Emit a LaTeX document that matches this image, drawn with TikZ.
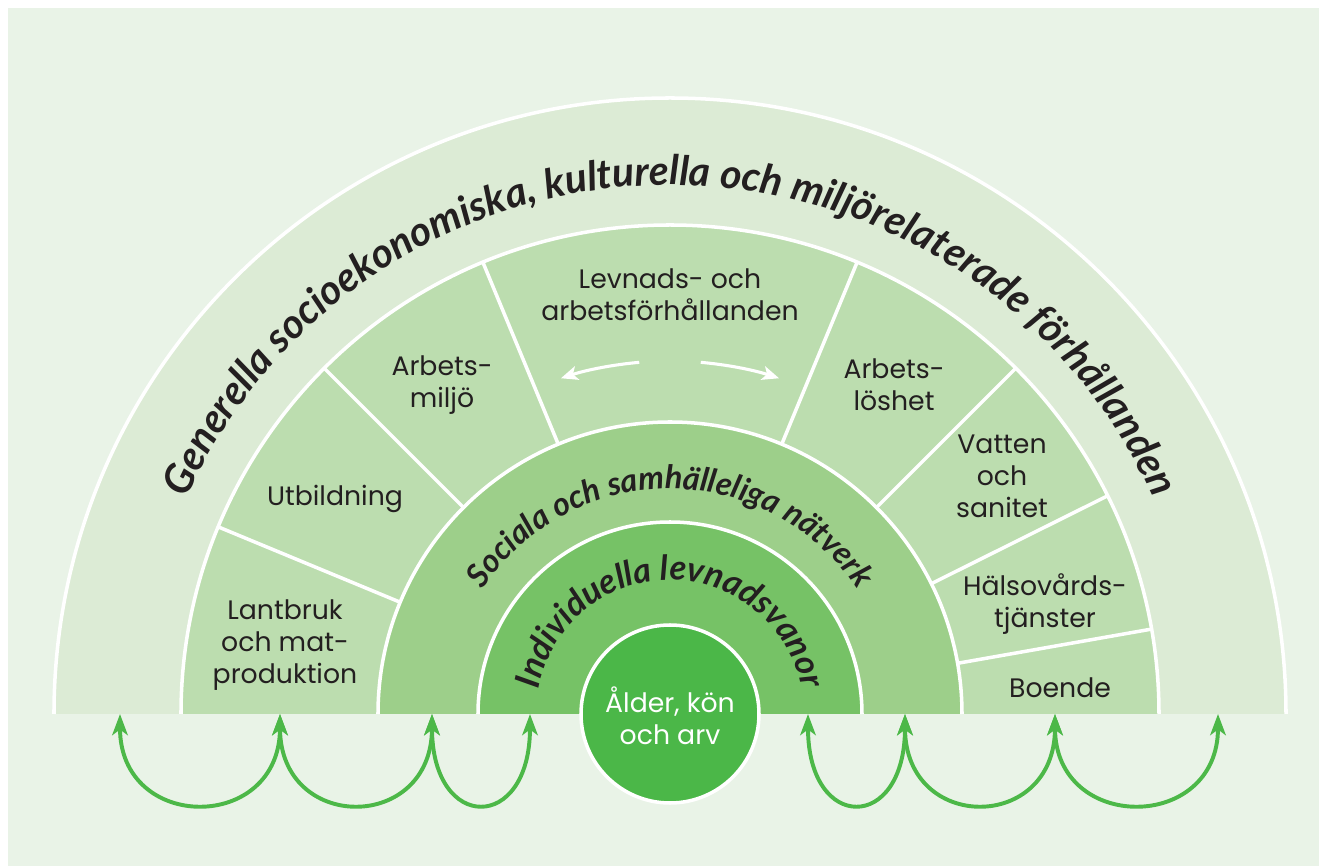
\documentclass[tikz,border=0pt]{standalone}
\usepackage{fontspec}
\setmainfont{Lato}
\newfontfamily\labelfont{Poppins}
\usetikzlibrary{arrows.meta,decorations.text,calc}
\definecolor{panelgreen}{RGB}{233,243,231}
\definecolor{outergreen}{RGB}{220,235,213}
\definecolor{segmentgreen}{RGB}{188,221,175}
\definecolor{socialgreen}{RGB}{157,207,138}
\definecolor{indivgreen}{RGB}{118,194,102}
\definecolor{coregreen}{RGB}{75,183,72}
\definecolor{arrowgreen}{RGB}{76,184,72}
\definecolor{textblack}{RGB}{35,31,32}
\newcommand\bandfont{\fontsize{29}{35}\selectfont\bfseries\itshape}
\newcommand\ringfont{\fontsize{23}{28}\selectfont\bfseries\itshape}
\newcommand\corefont{\fontsize{24.5}{28}\selectfont\bfseries\itshape}

\begin{document}
\begin{tikzpicture}[x=0.025cm, y=0.025cm,
    segtext/.style={font=\labelfont\fontsize{19}{22.7}\selectfont, text=textblack, align=center},
    ringline/.style={white, line width=2.5pt},
    feedback/.style={arrowgreen, line width=2.8pt, {Stealth[length=15pt,width=11pt,inset=4pt]}-{Stealth[length=15pt,width=11pt,inset=4pt]}},
    turnarrow/.style={white, line width=2.2pt, -{Stealth[length=12pt,width=10pt,inset=3pt]}}
]

% === LAYOUT ===
% 1 unit = 1px of the 1319x866 frame, origin at the centre of the rainbow
% rings: 616 (outer), 489 (sectors), 292 (social), 192 (individual), 89 (core)

\useasboundingbox (-670,-152) rectangle (649,714);
\fill[panelgreen] (-662,-152) rectangle (649,706);

% Rainbow rings - from the outside in
\fill[outergreen] (-616,0) arc[start angle=180, end angle=0, radius=616] -- cycle;
\draw[ringline] (-616,0) arc[start angle=180, end angle=0, radius=616];
\fill[segmentgreen] (-489,0) arc[start angle=180, end angle=0, radius=489] -- cycle;
\draw[ringline] (-489,0) arc[start angle=180, end angle=0, radius=489];
\fill[socialgreen] (-292,0) arc[start angle=180, end angle=0, radius=292] -- cycle;
\draw[ringline] (-292,0) arc[start angle=180, end angle=0, radius=292];
\fill[indivgreen] (-192,0) arc[start angle=180, end angle=0, radius=192] -- cycle;
\draw[ringline] (-192,0) arc[start angle=180, end angle=0, radius=192];

% Sector borders
\foreach \a in {10,26.5,45,67.5,112.5,135,157.5}
    \draw[ringline] (\a:292) -- (\a:489);

% Core circle
\node[circle, fill=coregreen, draw=white, line width=2.5pt, minimum size=178*0.025cm] (core) at (0,0) {};
\node[segtext, text=white] (alder) at (0,-2) {Ålder, kön\\och arv};

% Curved band labels
\path[decorate, decoration={text along path, text align=center, text color=textblack,
    text={|\bandfont|Generella socioekonomiska, kulturella och miljörelaterade förhållanden}}]
    (-529,0) arc[start angle=180, end angle=0, radius=529];
\path[decorate, decoration={text along path, text align=center, text color=textblack,
    text={|\ringfont|Sociala och samhälleliga nätverk}}]
    (-225,0) arc[start angle=180, end angle=0, radius=225];
\path[decorate, decoration={text along path, text align=center, text color=textblack,
    text={|\corefont|Individuella levnadsvanor}}]
    (-134,0) arc[start angle=180, end angle=0, radius=134];

% Sector labels
\node[segtext] (lantbruk) at (-385,69) {Lantbruk\\och mat-\\produktion};
\node[segtext] (utbildning) at (-335,215) {Utbildning};
\node[segtext] (arbetsmiljo) at (-228,329) {Arbets-\\miljö};
\node[segtext] (levnads) at (0,419) {Levnads- och\\arbetsförhållanden};
\node[segtext] (arbetsloshet) at (224,329) {Arbets-\\löshet};
\node[segtext] (vatten) at (332,238) {Vatten\\och\\sanitet};
\node[segtext] (halsovard) at (375,110) {Hälsovårds-\\tjänster};
\node[segtext] (boende) at (390,26) {Boende};

% Arrows inside the middle sector
\draw[turnarrow] (95:353) arc[start angle=95, end angle=108, radius=353];
\draw[turnarrow] (85:353) arc[start angle=85, end angle=72, radius=353];

% Feedback arrows under the baseline
\coordinate (l1) at (-550,0);
\coordinate (l2) at (-390,0);
\coordinate (l3) at (-238,0);
\coordinate (l4) at (-140,0);
\coordinate (r1) at (138,0);
\coordinate (r2) at (235,0);
\coordinate (r3) at (385,0);
\coordinate (r4) at (548,0);
\foreach \p/\q in {l1/l2, l2/l3, l3/l4, r1/r2, r2/r3, r3/r4}
    \draw[feedback] (\p) .. controls +(0,-119) and +(0,-119) .. (\q);

\end{tikzpicture}
\end{document}
